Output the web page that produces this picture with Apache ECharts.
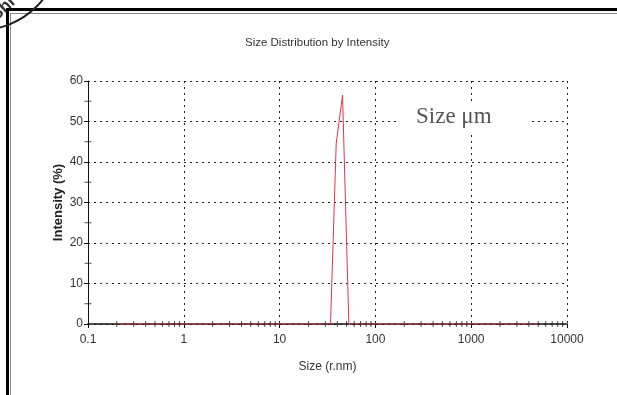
<!DOCTYPE html>
<html>
<head>
<meta charset="utf-8">
<script src="https://cdn.jsdelivr.net/npm/echarts@6/dist/echarts.min.js"></script>
<style>
  html, body { margin: 0; padding: 0; background: #fff; }
  #main { width: 617px; height: 395px; }
</style>
</head>
<body>
<div id="main"></div>
<script>
// size bins (r.nm) and intensity (%)
var sizes = [0.2, 34.0, 39.0, 45.4, 52.8, 5000];
var intensity = [0, 0, 44.6, 56.5, 0, 0];

var xTickLabels = ['0.1', '1', '10', '100', '1000', '10000'];
var yTicks = [0, 10, 20, 30, 40, 50, 60];
// small ticks along the baseline
var xMinorTicks = [0.2, 0.3, 0.4, 0.5, 0.6, 0.7, 0.8, 0.9,
                   2, 3, 4, 5, 6, 7, 8, 9,
                   20, 30, 40, 50, 60, 70, 80, 90,
                   200, 300, 400, 500, 600, 700, 800, 900,
                   2000, 3000, 4000, 5000, 6000, 7000, 8000, 9000];
var yMinorTicks = [5, 15, 25, 35, 45, 55];

var myChart = echarts.init(document.getElementById('main'));

var lineData = sizes.map(function (s, i) { return [s, intensity[i]]; });

var option = {
    animation: false,
    title: {
        text: 'Size Distribution by Intensity',
        left: 240,
        top: 32,
        textStyle: {
            fontFamily: 'Liberation Sans',
            fontSize: 11.5,
            fontWeight: 'normal',
            color: '#333'
        }
    },
    grid: {
        left: 88,
        right: 50,
        top: 81,
        bottom: 71
    },
    xAxis: {
        type: 'log',
        logBase: 10,
        min: 0.1,
        max: 10000,
        name: 'Size (r.nm)',
        nameLocation: 'middle',
        nameGap: 37,
        nameMoveOverlap: false,
        nameTextStyle: { fontFamily: 'Liberation Sans', fontSize: 12, color: '#333' },
        axisLine: { lineStyle: { color: '#111', width: 1.5 } },
        axisTick: { show: true, length: 4, lineStyle: { color: '#111' } },
        axisLabel: {
            fontFamily: 'Liberation Sans',
            fontSize: 12,
            color: '#333',
            margin: 10,
            formatter: function (v) {
                var i = Math.round(Math.log10(v)) + 1;
                return xTickLabels[i] !== undefined ? xTickLabels[i] : '';
            }
        },
        splitLine: {
            show: true,
            lineStyle: { color: '#222', type: [2, 4], width: 1 }
        }
    },
    yAxis: {
        type: 'value',
        min: 0,
        max: 60,
        interval: 10,
        name: 'Intensity (%)',
        nameLocation: 'middle',
        nameGap: 23,
        nameMoveOverlap: false,
        nameTextStyle: { fontFamily: 'Liberation Sans', fontSize: 13, fontWeight: 'bold', color: '#222' },
        axisLine: { show: true, lineStyle: { color: '#111', width: 1 } },
        axisTick: { show: true, length: 4, lineStyle: { color: '#111' } },
        axisLabel: {
            fontFamily: 'Liberation Sans',
            fontSize: 12,
            color: '#333',
            margin: 5,
            formatter: function (v) { return yTicks.indexOf(v) >= 0 ? String(v) : ''; }
        },
        splitLine: {
            show: true,
            lineStyle: { color: '#222', type: [2, 4], width: 1 }
        }
    },
    series: [
        {
            name: 'Intensity',
            type: 'line',
            data: lineData,
            showSymbol: false,
            lineStyle: { color: '#e0344a', width: 1 },
            z: 1
        },
        {
            type: 'scatter',
            data: xMinorTicks.map(function (v) { return [v, 0]; }),
            symbol: 'rect',
            symbolSize: [1, 6],
            itemStyle: { color: '#222' },
            clip: false,
            silent: true,
            z: 3
        },
        {
            type: 'scatter',
            data: yMinorTicks.map(function (v) { return [0.1, v]; }),
            symbol: 'rect',
            symbolSize: [7, 1],
            itemStyle: { color: '#222' },
            clip: false,
            silent: true,
            z: 3
        }
    ],
    graphic: [
        // page frame
        { type: 'rect', shape: { x: 6, y: 8, width: 3, height: 400 }, style: { fill: '#000' }, silent: true },
        { type: 'rect', shape: { x: 6, y: 8, width: 620, height: 3 }, style: { fill: '#000' }, silent: true },
        { type: 'rect', shape: { x: 10, y: 13, width: 1, height: 400 }, style: { fill: '#888' }, silent: true },
        { type: 'rect', shape: { x: 10, y: 13, width: 620, height: 1 }, style: { fill: '#888' }, silent: true },
        // stamp fragment
        {
            type: 'arc',
            shape: { cx: -20, cy: -50, r: 80, startAngle: 0, endAngle: Math.PI },
            style: { stroke: '#222', lineWidth: 2, fill: null },
            silent: true
        },
        {
            type: 'text',
            x: -1, y: 24,
            rotation: 0.75,
            style: { text: 'Shi', font: 'bold 17px "Liberation Sans"', fill: '#333', textVerticalAlign: 'bottom' },
            silent: true
        },
        // annotation
        {
            type: 'rect',
            shape: { x: 398, y: 103, width: 134, height: 28 },
            style: { fill: '#fff' },
            z: 100,
            silent: true
        },
        {
            type: 'text',
            x: 416, y: 117,
            z: 101,
            style: {
                text: 'Size \u03bcm',
                font: '23px "Liberation Serif"',
                fill: '#555',
                textVerticalAlign: 'middle'
            },
            silent: true
        }
    ]
};

myChart.setOption(option);
</script>
</body>
</html>
